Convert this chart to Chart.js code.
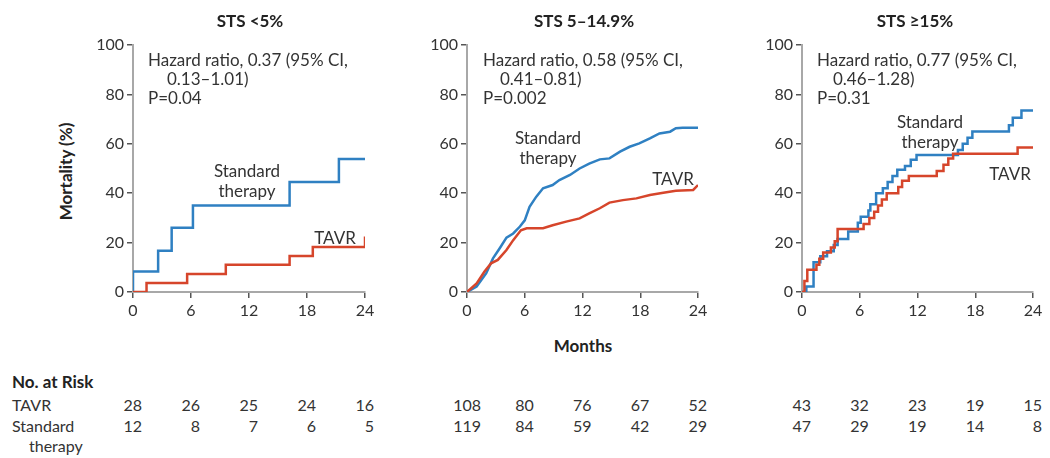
<!DOCTYPE html>
<html><head><meta charset="utf-8">
<script src="https://cdn.jsdelivr.net/npm/chart.js@4/dist/chart.umd.min.js"></script>
<style>
body{margin:0;background:#fff;width:1050px;height:458px;overflow:hidden;position:relative;font-family:Lato, "Open Sans", sans-serif;color:#333;}
canvas{position:absolute;top:0;}
.t{position:absolute;white-space:nowrap;font-size:17px;line-height:19px;}
.b{font-weight:bold;color:#222;}
.c{transform:translateX(-50%);text-align:center;}
.n{font-size:16px;}
</style></head><body>
<canvas id="c0" width="300" height="320" style="left:80px"></canvas>
<canvas id="c1" width="300" height="320" style="left:414px"></canvas>
<canvas id="c2" width="300" height="320" style="left:749px"></canvas>
<script>
// ---------- DATA ----------
const panelTitles = ['STS <5%', 'STS 5\u201314.9%', 'STS \u226515%'];
const hazardLine1 = ['Hazard ratio, 0.37 (95% CI,', 'Hazard ratio, 0.58 (95% CI,', 'Hazard ratio, 0.77 (95% CI,'];
const hazardLine2 = ['0.13\u20131.01)', '0.41\u20130.81)', '0.46\u20131.28)'];
const pValues = ['P=0.04', 'P=0.002', 'P=0.31'];
const xTickValues = [0, 6, 12, 18, 24];
const yTickValues = [0, 20, 40, 60, 80, 100];

// STS <5%
const lowStdMonths  = [0, 0, 2.6, 4.0, 6.2, 16.2, 21.3, 24];
const lowStdValues  = [0, 8.3, 16.7, 26, 35, 44.5, 53.8, 53.8];
const lowTavrMonths = [0, 1.4, 5.6, 9.6, 16.2, 18.6, 24, 24];
const lowTavrValues = [0, 3.6, 7.3, 11, 14.6, 18.2, 18.2, 22.5];

// STS 5-14.9%
const midStdMonths  = [0, 1.0, 2.0, 2.7, 3.4, 4.1, 4.8, 5.5, 6.0, 6.5, 7.2, 7.9, 8.9, 9.6, 10.7, 11.7, 12.7, 13.8, 14.8, 15.9, 16.9, 17.9, 19.0, 20.0, 21.1, 21.7, 22.4, 24];
const midStdValues  = [0, 2.2, 7.6, 13.6, 17.7, 22, 23.7, 26.5, 29, 34.5, 38.6, 42, 43.3, 45.3, 47.4, 50, 52, 53.7, 54.1, 56.8, 58.8, 60.2, 62.2, 64.2, 64.9, 66.3, 66.5, 66.5];
const midTavrMonths = [0, 1.0, 1.8, 2.5, 3.2, 4.1, 4.8, 5.6, 6.2, 7.9, 8.9, 10.3, 11.7, 12.7, 13.8, 14.8, 16.2, 17.6, 19.0, 20.4, 21.7, 23.5, 24];
const midTavrValues = [0, 3.5, 8.2, 11.6, 13, 17, 21, 25, 25.8, 25.8, 27, 28.5, 29.8, 31.8, 33.9, 36.2, 37.2, 37.9, 39.3, 40.2, 41, 41.3, 43.3];

// STS >=15%
const highStdMonths  = [0, 0.45, 1.2, 1.9, 2.6, 3.3, 3.7, 4.8, 5.8, 6.1, 6.9, 7.1, 7.7, 8.4, 8.9, 9.4, 9.9, 10.7, 11.3, 11.9, 16.2, 16.7, 17.2, 17.7, 21.5, 21.9, 22.8, 24];
const highStdValues  = [0, 2.2, 12, 14.5, 16.5, 19, 21.5, 24.5, 28, 30.5, 33, 35.5, 40, 42, 44.5, 47, 49.5, 51, 53.5, 55.5, 57.5, 60, 62.5, 65, 67.5, 70.5, 73.5, 73.5];
const highTavrMonths = [0, 0.25, 0.55, 1.5, 1.8, 2.2, 3.0, 3.4, 3.7, 6.4, 7.0, 7.5, 7.9, 8.3, 8.8, 10.0, 10.4, 11.1, 14.0, 14.7, 15.2, 15.7, 22.4, 24];
const highTavrValues = [0, 4.5, 9, 11, 13.5, 16, 18, 20.5, 25.5, 27.5, 30, 32.5, 35, 37.5, 40, 42.5, 45, 47, 49, 51.5, 54, 56, 58.5, 58.5];

// No. at risk
const riskTavr = [[28, 26, 25, 24, 16], [108, 80, 76, 67, 52], [43, 32, 23, 19, 15]];
const riskStd  = [[12, 8, 7, 6, 5], [119, 84, 59, 42, 29], [47, 29, 19, 14, 8]];

// ---------- STYLE / LAYOUT ----------
const BLUE = '#2f80c2', RED = '#d6452b';
const canvasLefts = [80, 414, 749];
const rightPads = [15, 16, 16];
const hrLeft = [148, 483, 817];
const hrIndent = [167, 500, 833];
const stdLabel = [[247, 170], [548, 137], [930, 121]];
const tavrLabel = [[335, 237], [673, 178], [1010, 173]];
const titleX = [250, 584, 915];

function pts(m, v) { return m.map((x, i) => ({x: x, y: v[i]})); }
const series = [
  [pts(lowStdMonths, lowStdValues), pts(lowTavrMonths, lowTavrValues), true],
  [pts(midStdMonths, midStdValues), pts(midTavrMonths, midTavrValues), false],
  [pts(highStdMonths, highStdValues), pts(highTavrMonths, highTavrValues), true]
];

const tickFont = {family: 'Lato', size: 16};
function mk(k) {
  const [std, tavr, stepped] = series[k];
  return new Chart(document.getElementById('c' + k), {
    type: 'line',
    data: {datasets: [
      {label: 'TAVR', data: tavr, borderColor: RED, borderWidth: 2.5, pointRadius: 0, stepped: stepped, tension: 0, fill: false},
      {label: 'Standard therapy', data: std, borderColor: BLUE, borderWidth: 2.5, pointRadius: 0, stepped: stepped, tension: 0, fill: false}
    ]},
    options: {
      responsive: false, animation: false, devicePixelRatio: 1,
      layout: {padding: {top: 45, right: rightPads[k], bottom: 0, left: 0}},
      plugins: {legend: {display: false}, tooltip: {enabled: false}},
      scales: {
        x: {type: 'linear', min: 0, max: 24,
          afterBuildTicks: s => { s.ticks = xTickValues.map(v => ({value: v})); },
          afterFit: s => { s.height = 28; },
          ticks: {font: tickFont, color: '#333', padding: 3, maxRotation: 0, autoSkip: false},
          grid: {drawOnChartArea: false, drawTicks: true, tickLength: 6, color: '#555', lineWidth: 1.5},
          border: {display: true, color: '#a8a8a8', width: 2}},
        y: {type: 'linear', min: 0, max: 100,
          afterBuildTicks: s => { s.ticks = yTickValues.map(v => ({value: v})); },
          afterFit: s => { s.width = 53; },
          ticks: {font: tickFont, color: '#333', padding: 3, autoSkip: false},
          grid: {drawOnChartArea: false, drawTicks: true, tickLength: 6, color: '#555', lineWidth: 1.5},
          border: {display: true, color: '#a8a8a8', width: 2}}
      }
    }
  });
}

function addText(txt, x, y, cls, extra) {
  const d = document.createElement('div');
  d.className = 't ' + (cls || '');
  d.textContent = txt;
  d.style.left = x + 'px';
  d.style.top = (y - 9.5) + 'px';
  if (extra) Object.assign(d.style, extra);
  document.body.appendChild(d);
  return d;
}
function addRight(txt, xr, y) {
  const d = document.createElement('div');
  d.className = 't n';
  d.textContent = txt;
  d.style.right = (1050 - xr) + 'px';
  d.style.top = (y - 9.5) + 'px';
  d.style.textAlign = 'right';
  document.body.appendChild(d);
}

const charts = [0, 1, 2].map(mk);

for (let k = 0; k < 3; k++) {
  addText(panelTitles[k], titleX[k], 20, 'b c');
  addText(hazardLine1[k], hrLeft[k], 59);
  addText(hazardLine2[k], hrIndent[k], 78);
  addText(pValues[k], hrLeft[k], 97);
  addText('Standard', stdLabel[k][0], stdLabel[k][1], 'c');
  addText('therapy', stdLabel[k][0], stdLabel[k][1] + 20, 'c');
  addText('TAVR', tavrLabel[k][0], tavrLabel[k][1], 'c');
  const xs = charts[k].scales.x;
  const wide = riskTavr[k].concat(riskStd[k]).some(v => v >= 100);
  xTickValues.forEach((m, i) => {
    const px = canvasLefts[k] + xs.getPixelForValue(m);
    const off = (i === 0 && wide) ? 14 : 9;
    addRight(String(riskTavr[k][i]), px + off, 404);
    addRight(String(riskStd[k][i]), px + off, 425);
  });
}

addText('Months', 583, 345, 'b c');
addText('Mortality (%)', 65, 171, 'b', {transform: 'translate(-50%,0) rotate(-90deg)'});
addText('No. at Risk', 12, 381, 'b');
addText('TAVR', 12, 404, 'n');
addText('Standard', 12, 425, 'n');
addText('therapy', 29, 445, 'n');
</script>
</body></html>
